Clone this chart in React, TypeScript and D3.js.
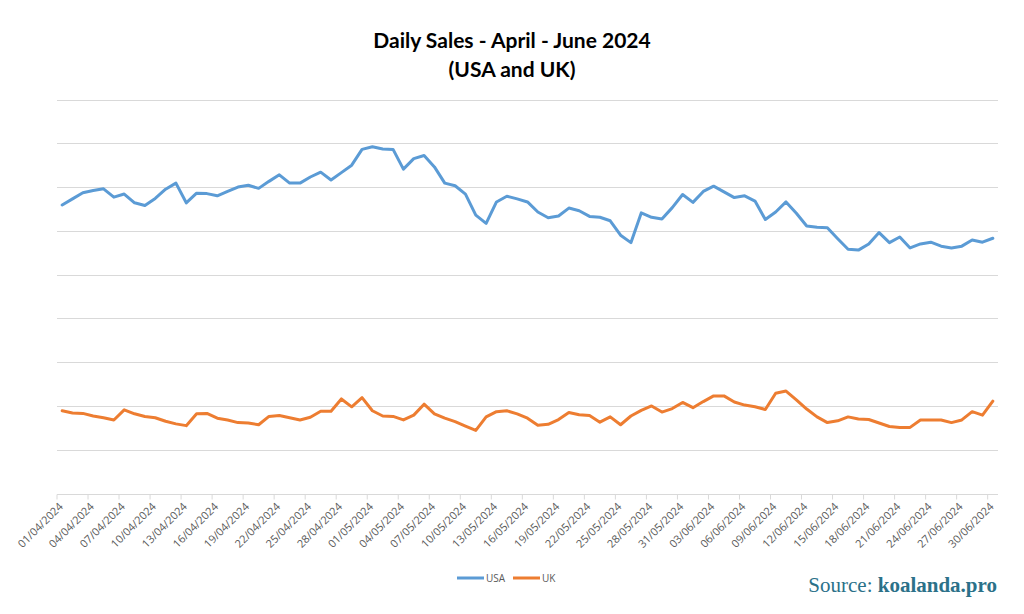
import React, { useEffect, useRef } from 'react';
import * as d3 from 'd3';

// daily values, 01/04/2024 .. 30/06/2024 (91 days)
const usaSales = [
  659, 673, 687, 692, 696, 677, 684, 664, 658, 674, 695, 709, 664, 686, 685, 680,
  690, 700, 704, 697, 713, 728, 709, 709, 723, 734, 716, 733, 750, 786, 792, 787,
  786, 741, 765, 772, 746, 709, 703, 684, 636, 617, 666, 679, 673, 666, 643, 630,
  634, 652, 646, 633, 631, 623, 590, 573, 641, 631, 627, 653, 683, 665, 690, 702,
  689, 676, 680, 668, 626, 643, 666, 640, 611, 608, 607, 582, 558, 556, 570, 596,
  573, 586, 561, 570, 574, 565, 561, 565, 579, 574, 583,
];
const ukSales = [
  189, 184, 183, 177, 173, 168, 191, 182, 176, 173, 165, 159, 155, 182, 183, 172,
  168, 162, 161, 157, 176, 178, 173, 168, 174, 188, 188, 216, 198, 219, 189, 177,
  176, 168, 179, 204, 182, 172, 164, 154, 144, 175, 187, 189, 182, 172, 156, 158,
  169, 185, 180, 178, 163, 175, 157, 177, 190, 200, 186, 194, 208, 196, 210, 223,
  223, 209, 202, 198, 192, 229, 234, 214, 193, 175, 162, 166, 175, 170, 169, 161,
  153, 151, 151, 168, 168, 168, 162, 168, 187, 179, 211,
];
const seriesNames = ['USA', 'UK'];
const seriesColors = ['#5b9bd5', '#ed7d31'];

const startDate = new Date(2024, 3, 1);
const dates = d3.range(usaSales.length).map(i => d3.timeDay.offset(startDate, i));
const fmt = d3.timeFormat('%d/%m/%Y');

const App = () => {
  const svgRef = useRef(null);

  useEffect(() => {
    const svg = d3.select(svgRef.current);
    svg.selectAll('*').remove();

    const margin = { top: 99.5, left: 57, right: 26, bottom: 120.5 };
    const W = 1024, H = 614;
    const bottom = H - margin.bottom;

    const x = d3.scaleBand()
      .domain(dates.map(d => fmt(d)))
      .range([margin.left, W - margin.right]);
    const y = d3.scaleLinear().domain([0, 900]).range([bottom, margin.top]);

    // title
    svg.append('text')
      .attr('x', 512).attr('y', 48)
      .attr('text-anchor', 'middle')
      .style('font-family', 'Lato, sans-serif')
      .style('font-weight', 'bold')
      .style('font-size', '21px')
      .style('fill', '#000')
      .text('Daily Sales - April - June 2024');
    svg.append('text')
      .attr('x', 512).attr('y', 77)
      .attr('text-anchor', 'middle')
      .style('font-family', 'Lato, sans-serif')
      .style('font-weight', 'bold')
      .style('font-size', '21px')
      .style('fill', '#000')
      .text('(USA and UK)');

    // gridlines
    svg.append('g')
      .selectAll('line')
      .data(y.ticks(9).filter(t => t > 0))
      .join('line')
      .attr('x1', margin.left).attr('x2', W - margin.right)
      .attr('y1', d => Math.round(y(d)) + 0.5).attr('y2', d => Math.round(y(d)) + 0.5)
      .attr('stroke', '#d9d9d9')
      .attr('stroke-width', 1);

    // x axis: ticks every 3 days at the band start
    const tickDates = dates.filter((_, i) => i % 3 === 0).map(d => fmt(d));
    const axis = svg.append('g')
      .attr('transform', `translate(0, ${Math.round(bottom) + 0.5})`);
    axis.append('line')
      .attr('x1', margin.left).attr('x2', W - margin.right)
      .attr('stroke', '#d9d9d9');
    const ticks = axis.selectAll('g.tick')
      .data(tickDates)
      .join('g')
      .attr('class', 'tick')
      .attr('transform', d => `translate(${x(d)}, 0)`);
    ticks.append('line')
      .attr('y2', 5)
      .attr('stroke', '#d9d9d9');
    ticks.append('text')
      .attr('transform', 'translate(4, 10) rotate(-45)')
      .attr('text-anchor', 'end')
      .attr('dy', '0.35em')
      .style('font-family', '"Open Sans", sans-serif')
      .style('font-size', '11px')
      .style('fill', '#595959')
      .text(d => d);

    // lines
    const cx = i => x(fmt(dates[i])) + x.bandwidth() / 2;
    [usaSales, ukSales].forEach((vals, k) => {
      const line = d3.line()
        .x((_, i) => cx(i))
        .y(d => y(d));
      svg.append('path')
        .datum(vals)
        .attr('d', line)
        .attr('fill', 'none')
        .attr('stroke', seriesColors[k])
        .attr('stroke-width', 3)
        .attr('stroke-linejoin', 'round')
        .attr('stroke-linecap', 'round');
    });

    // legend
    const legend = svg.append('g').attr('transform', 'translate(457, 578)');
    const legendX = [0, 56];
    seriesNames.forEach((name, k) => {
      legend.append('line')
        .attr('x1', legendX[k]).attr('x2', legendX[k] + 27)
        .attr('stroke', seriesColors[k])
        .attr('stroke-width', 3);
      legend.append('text')
        .attr('x', legendX[k] + 29).attr('y', 0)
        .attr('dy', '0.35em')
        .style('font-family', '"Open Sans", sans-serif')
        .style('font-size', '10px')
        .style('fill', '#595959')
        .text(name);
    });

    // source
    const src = svg.append('text')
      .attr('x', 997).attr('y', 592)
      .attr('text-anchor', 'end')
      .style('font-family', '"Liberation Serif", serif')
      .style('font-size', '21px')
      .style('fill', '#2b7189');
    src.append('tspan').text('Source: ');
    src.append('tspan').style('font-weight', 'bold').text('koalanda.pro');
  }, []);

  return (
    <div style={{ position: 'absolute', left: 0, top: 0 }}>
      <svg ref={svgRef} width={1024} height={614} style={{ display: 'block', background: '#fff' }} />
    </div>
  );
};

export default App;
